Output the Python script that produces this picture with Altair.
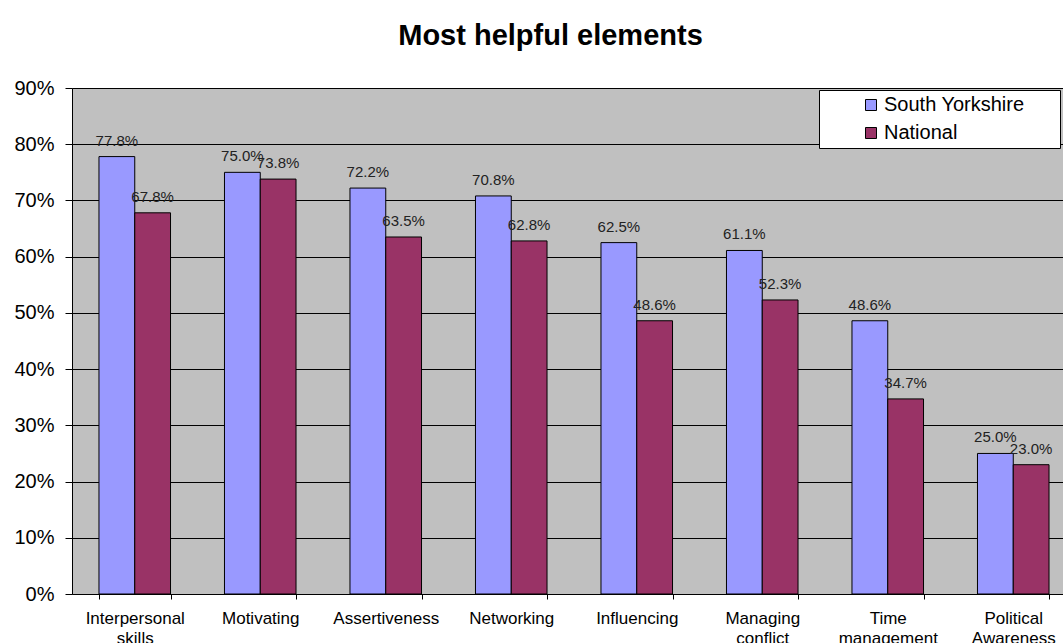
import altair as alt
import pandas as pd

categories = ["Interpersonal skills", "Motivating", "Assertiveness", "Networking",
              "Influencing", "Managing conflict", "Time management", "Political Awareness"]
series_names = ["South Yorkshire", "National"]
south_yorkshire = [77.8, 75.0, 72.2, 70.8, 62.5, 61.1, 48.6, 25.0]
national = [67.8, 73.8, 63.5, 62.8, 48.6, 52.3, 34.7, 23.0]
y_ticks = [0, 10, 20, 30, 40, 50, 60, 70, 80, 90]
colors = ["#9999FF", "#993366"]

rows = []
for c, a, b in zip(categories, south_yorkshire, national):
    rows.append({"category": c, "series": series_names[0], "value": a})
    rows.append({"category": c, "series": series_names[1], "value": b})
df = pd.DataFrame(rows)

FONT = "Liberation Sans"

x_enc = alt.X(
    "category:N", sort=categories, title=None,
    scale=alt.Scale(range=[0, 1004], paddingInner=0.43, paddingOuter=0.215),
    axis=alt.Axis(labelAngle=0, labelFontSize=17, labelFont=FONT, labelColor="black",
                  labelExpr="split(datum.label, ' ')", labelLineHeight=20,
                  tickSize=5, tickBand="extent", tickColor="black", domainColor="black",
                  labelPadding=11, grid=False),
)
xoff = alt.XOffset("series:N", sort=series_names, scale=alt.Scale(paddingInner=0, paddingOuter=0))
y_enc = alt.Y(
    "value:Q", title=None,
    scale=alt.Scale(domain=[0, 90], nice=False),
    axis=alt.Axis(values=y_ticks, labelExpr="datum.value + '%'", labelFontSize=20,
                  labelFont=FONT, labelColor="black", tickSize=7, tickColor="black",
                  domainColor="black", labelPadding=11, grid=True, gridColor="black",
                  gridOpacity=1, gridWidth=1),
)

bars = alt.Chart(df).mark_bar(stroke="black", strokeWidth=1).encode(
    x=x_enc, xOffset=xoff, y=y_enc,
    color=alt.Color("series:N", sort=series_names,
                    scale=alt.Scale(domain=series_names, range=colors),
                    legend=alt.Legend(title=None, orient="none", legendX=747, legendY=2,
                                      fillColor="white", strokeColor="black", padding=5,
                                      symbolOffset=37, symbolType="square", symbolSize=121,
                                      symbolStrokeColor="black", symbolStrokeWidth=1,
                                      labelFontSize=20, labelFont=FONT, labelColor="black",
                                      labelExpr="datum.label + '\u2800\u2800'",
                                      labelLimit=400, labelOffset=3, rowPadding=8)),
)

labels = alt.Chart(df).transform_calculate(
    label="format(datum.value, '.1f') + '%'"
).mark_text(baseline="bottom", dy=-8, fontSize=15, font=FONT, color="#222222").encode(
    x=alt.X("category:N", sort=categories), xOffset=xoff, y="value:Q", text="label:N"
)

chart = alt.layer(bars, labels).properties(
    width=991, height=506,
    title=alt.TitleParams("Most helpful elements", fontSize=29, font=FONT, fontWeight="bold",
                          color="black", anchor="middle", dx=-17, offset=27),
    autosize=alt.AutoSizeParams(type="none"),
    padding={"left": 72, "top": 88, "right": 0, "bottom": 49},
    background="white",
).configure_view(fill="#C0C0C0", stroke=None)

chart.save("out.html", embed_options={"renderer": "svg", "actions": False})
